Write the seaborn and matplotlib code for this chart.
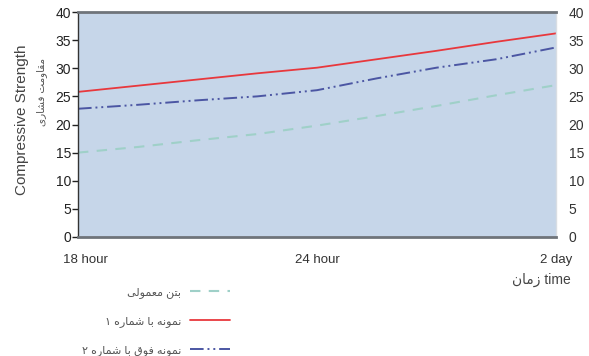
import numpy as np
import pandas as pd
import matplotlib
matplotlib.use("Agg")
import matplotlib.pyplot as plt
import matplotlib.transforms as mtransforms
import seaborn as sns

# ---- data -------------------------------------------------------------
tick_labels = ["18 hour", "24 hour", "2 day"]
time_pos = [0.0, 0.25, 0.5, 0.75, 1.0, 1.25, 1.5, 1.75, 2.0]
normal_concrete = [15.0, 16.0, 17.2, 18.3, 19.8, 21.5, 23.3, 25.2, 27.0]
sample_1 = [25.8, 26.9, 28.0, 29.1, 30.1, 31.6, 33.1, 34.7, 36.2]
sample_2 = [22.8, 23.5, 24.3, 25.0, 26.1, 28.2, 30.1, 31.6, 33.7]
y_ticks = [0, 5, 10, 15, 20, 25, 30, 35, 40]

# ---- minimal Persian shaping (contextual forms + visual order) -------
FORMS = {  # isolated, final, initial, medial
    "ا": ("\uFE8D", "\uFE8E", None, None),
    "ب": ("\uFE8F", "\uFE90", "\uFE91", "\uFE92"),
    "ت": ("\uFE95", "\uFE96", "\uFE97", "\uFE98"),
    "ن": ("\uFEE5", "\uFEE6", "\uFEE7", "\uFEE8"),
    "م": ("\uFEE1", "\uFEE2", "\uFEE3", "\uFEE4"),
    "ع": ("\uFEC9", "\uFECA", "\uFECB", "\uFECC"),
    "و": ("\uFEED", "\uFEEE", None, None),
    "ل": ("\uFEDD", "\uFEDE", "\uFEDF", "\uFEE0"),
    "ی": ("\uFBFC", "\uFBFD", "\uFBFE", "\uFBFF"),
    "ق": ("\uFED5", "\uFED6", "\uFED7", "\uFED8"),
    "ف": ("\uFED1", "\uFED2", "\uFED3", "\uFED4"),
    "ش": ("\uFEB5", "\uFEB6", "\uFEB7", "\uFEB8"),
    "ر": ("\uFEAD", "\uFEAE", None, None),
    "ز": ("\uFEAF", "\uFEB0", None, None),
    "ه": ("\uFEE9", "\uFEEA", "\uFEEB", "\uFEEC"),
}


def shape_fa(text):
    out = []
    n = len(text)
    for i, ch in enumerate(text):
        if ch not in FORMS:
            out.append(ch)
            continue
        iso, fin, ini, med = FORMS[ch]
        prev = text[i - 1] if i > 0 else None
        nxt = text[i + 1] if i < n - 1 else None
        join_prev = prev in FORMS and FORMS[prev][2] is not None
        join_next = nxt in FORMS and ini is not None
        if join_prev and join_next:
            out.append(med)
        elif join_prev:
            out.append(fin)
        elif join_next:
            out.append(ini)
        else:
            out.append(iso)
    return "".join(reversed(out))


FA_FONT = ["Liberation Sans", "DejaVu Sans"]

legend_labels = [shape_fa("بتن معمولی"),
                 shape_fa("نمونه با شماره ۱"),
                 shape_fa("نمونه فوق با شماره ۲")]

n = len(time_pos)
df = pd.DataFrame({
    "t": time_pos * 3,
    "strength": normal_concrete + sample_1 + sample_2,
    "series": [legend_labels[0]] * n + [legend_labels[1]] * n + [legend_labels[2]] * n,
})

# ---- figure -----------------------------------------------------------
sns.set_style("white")
plt.rcParams["font.family"] = FA_FONT

fig = plt.figure(figsize=(5.89, 3.56), dpi=100)
ax = fig.add_axes([78 / 589, 1 - 237 / 356, (556 - 78) / 589, (237 - 12) / 356])
ax.set_facecolor("#c6d6e9")

colors = ["#9fd0c8", "#e8383d", "#4b56a3"]
styles = [(0, (5, 4)), "-", (0, (7, 2, 1, 2, 1, 2))]
widths = [1.5, 1.3, 1.4]

for lab, c, ls, lw in zip(legend_labels, colors, styles, widths):
    sub = df[df["series"] == lab]
    sns.lineplot(data=sub, x="t", y="strength", ax=ax, color=c,
                 linestyle=ls, linewidth=lw, label=lab, legend=False)

ax.set_xlim(0, 2)
ax.set_ylim(0, 40)
ax.set_yticks(y_ticks)
ax.set_yticklabels([str(v) for v in y_ticks], fontsize=10, color="#222222")
ax.tick_params(axis="y", direction="out", length=4, width=1, pad=1, colors="#222222")
ax.set_xticks([0, 1, 2])
ax.set_xticklabels(tick_labels, fontsize=9.5, color="#333333")
ax.tick_params(axis="x", length=0, pad=12)
xt = ax.get_xticklabels()
xt[0].set_transform(xt[0].get_transform() + mtransforms.ScaledTranslation(7 / 100, 0, fig.dpi_scale_trans))
ax.set_xlabel("")
ax.set_ylabel("")

for side in ["top", "bottom"]:
    ax.spines[side].set_color("#6f747a")
    ax.spines[side].set_linewidth(2.0)
ax.spines["left"].set_color("#333333")
ax.spines["left"].set_linewidth(1.0)
ax.spines["right"].set_color("#d8dde3")
ax.spines["right"].set_linewidth(1.0)

# right-hand scale
ax2 = ax.twinx()
ax2.set_ylim(0, 40)
ax2.set_yticks(y_ticks)
ax2.set_yticklabels([str(v) for v in y_ticks], fontsize=10, color="#333333")
ax2.tick_params(axis="y", length=0, pad=9)
for s in ax2.spines.values():
    s.set_visible(False)

# axis titles
fig.text(22 / 589, 1 - 120 / 356, "Compressive Strength", rotation=90,
         ha="center", va="center", fontsize=11, color="#444444")
fig.text(42 / 589, 1 - 92 / 356, shape_fa("مقاومت فشاری"), rotation=90,
         ha="center", va="center", fontsize=7.5, color="#555555", family=FA_FONT)
fig.text(571 / 589, 1 - 280 / 356, shape_fa("زمان") + " time",
         ha="right", va="center", fontsize=10, color="#444444", family=FA_FONT)

# legend below the plot, handles after the labels
handles, labels = ax.get_legend_handles_labels()
leg = fig.legend(handles, labels, loc="upper left", bbox_to_anchor=(72 / 589, 1 - 277 / 356),
                 frameon=False, markerfirst=False, handlelength=3.6, handletextpad=0.8,
                 labelspacing=1.6, prop={"family": FA_FONT, "size": 8})
for t in leg.get_texts():
    t.set_color("#555555")

fig.savefig("out.png", dpi=100)
